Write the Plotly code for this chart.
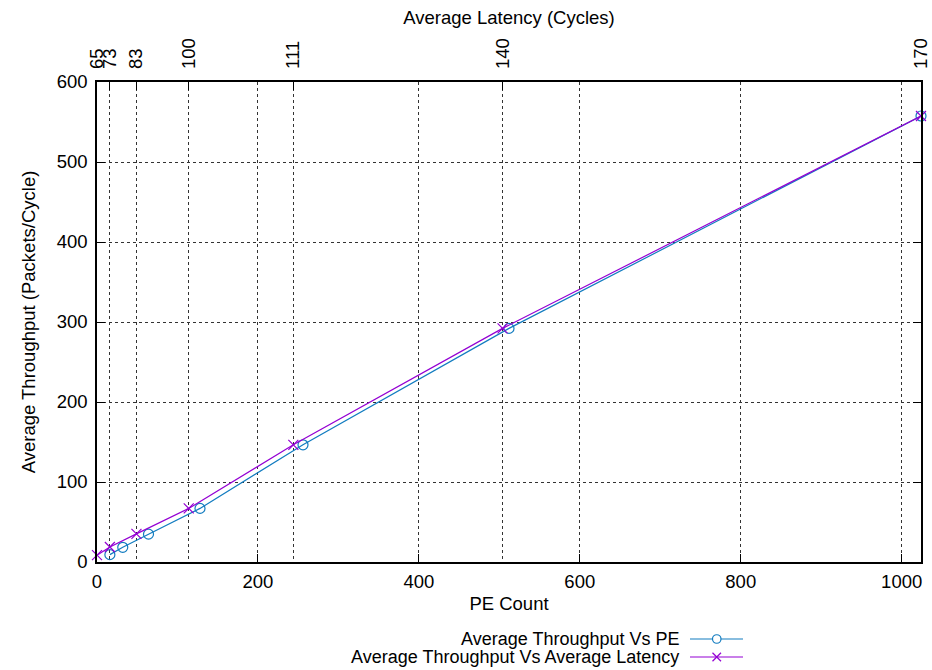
import plotly.graph_objects as go

# Data
pe_count = [16, 32, 64, 128, 256, 512, 1024]
throughput = [9.2, 18.4, 34.8, 67, 146.5, 292, 557.5]
latency_labels = ["65", "73", "83", "100", "111", "140", "170"]
latency_pos = [0, 16, 49, 114, 244, 504, 1024]   # positions of latency ticks on top axis
throughput_lat = [8.6, 18.8, 35.2, 67, 146.5, 292, 557.5]

BLUE = "#127cc0"
PURPLE = "#9400d3"
FONT = "Liberation Sans, Arial, Helvetica, sans-serif"
FS = 18.5
LFS = 18

fig = go.Figure()
fig.add_trace(go.Scatter(
    x=pe_count, y=throughput, mode="lines+markers", name="Average Throughput Vs PE",
    line=dict(color=BLUE, width=1.2),
    marker=dict(symbol="circle-open", size=10, color=BLUE, line=dict(width=1.2)),
    xaxis="x", yaxis="y", cliponaxis=False,
))
fig.add_trace(go.Scatter(
    x=latency_pos, y=throughput_lat, mode="lines+markers", name="Average Throughput Vs Average Latency",
    line=dict(color=PURPLE, width=1.2),
    marker=dict(symbol="x-thin-open", size=10, color=PURPLE, line=dict(width=1.2, color=PURPLE)),
    xaxis="x2", yaxis="y", cliponaxis=False,
))

grid = dict(showgrid=True, gridcolor="#333333", griddash="dot", gridwidth=0.8)

L, R = 97, 11

fig.update_layout(
    width=932, height=670,
    margin=dict(l=L, r=R, t=82, b=108, autoexpand=False),
    paper_bgcolor="white", plot_bgcolor="white",
    font=dict(family=FONT, size=FS, color="black"),
    showlegend=False,
    xaxis=dict(
        range=[0, 1024], tickvals=[0, 200, 400, 600, 800, 1000],
        ticks="inside", ticklen=8, tickcolor="black", tickwidth=1,
        showline=True, linecolor="black", linewidth=1.5, mirror=True,
        zeroline=False, ticklabelstandoff=2, automargin=False,
        title=dict(text="PE Count", standoff=6, font=dict(size=FS)),
        tickfont=dict(size=FS), **grid,
    ),
    xaxis2=dict(
        range=[0, 1024], overlaying="x", side="top", anchor="y",
        tickvals=latency_pos, ticktext=latency_labels, tickangle=-90,
        ticks="inside", ticklen=8, tickcolor="black", tickwidth=1,
        showline=False, zeroline=False, ticklabelstandoff=12,
        ticklabeloverflow="allow", automargin=False,
        title=dict(text="Average Latency (Cycles)", standoff=8, font=dict(size=FS)),
        tickfont=dict(size=FS), **grid,
    ),
    yaxis=dict(
        range=[0, 600], tickvals=[0, 100, 200, 300, 400, 500, 600],
        ticks="inside", ticklen=8, tickcolor="black", tickwidth=1,
        showline=True, linecolor="black", linewidth=1.5, mirror="ticks",
        zeroline=False, ticklabelstandoff=4, automargin=False,
        title=dict(text="Average Throughput (Packets/Cycle)", standoff=16, font=dict(size=FS)),
        tickfont=dict(size=FS), **grid,
    ),
)

# Manual gnuplot-style legend (text left of the sample)
W, H = float(932 - L - R), 480.0
def px(xp):
    return (xp - L) / W
def py(yp):
    return (562 - yp) / H

entries = [("Average Throughput Vs PE", BLUE, "circle", 639),
           ("Average Throughput Vs Average Latency", PURPLE, "x", 657)]
for text, col, sym, yp in entries:
    fig.add_annotation(x=px(680), y=py(yp), xref="paper", yref="paper", text=text,
                       showarrow=False, xanchor="right", yanchor="middle",
                       borderpad=0,
                       font=dict(size=LFS, family=FONT, color="black"))
    fig.add_shape(type="line", xref="paper", yref="paper",
                  x0=px(690), x1=px(743), y0=py(yp), y1=py(yp),
                  line=dict(color=col, width=1.2))
    if sym == "circle":
        fig.add_shape(type="circle", xref="paper", yref="paper",
                      x0=px(712.5), x1=px(721), y0=py(yp - 4.25), y1=py(yp + 4.25),
                      line=dict(color=col, width=1.2), fillcolor="white")
    else:
        fig.add_shape(type="line", xref="paper", yref="paper",
                      x0=px(712.5), x1=px(721), y0=py(yp - 4.25), y1=py(yp + 4.25),
                      line=dict(color=col, width=1.2))
        fig.add_shape(type="line", xref="paper", yref="paper",
                      x0=px(712.5), x1=px(721), y0=py(yp + 4.25), y1=py(yp - 4.25),
                      line=dict(color=col, width=1.2))

fig.write_html("out.html")
